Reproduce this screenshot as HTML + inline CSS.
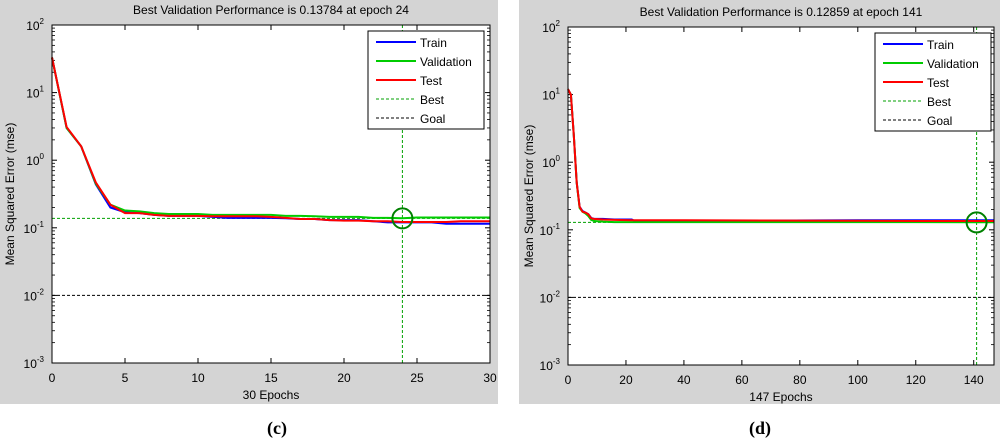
<!DOCTYPE html>
<html><head><meta charset="utf-8"><style>
body{margin:0;background:#fff;width:1000px;height:440px;overflow:hidden}
svg{display:block;font-family:"Liberation Sans",sans-serif}
</style></head><body>
<svg id="chart" width="1000" height="440" viewBox="0 0 1000 440" xmlns="http://www.w3.org/2000/svg"></svg>
<script>
// Panel (c) data
const cEpochs = [0,1,2,3,4,5,6,7,8,9,10,11,12,13,14,15,16,17,18,19,20,21,22,23,24,25,26,27,28,29,30];
const cTrain = [33,3.0,1.6,0.44,0.2,0.17,0.165,0.155,0.15,0.15,0.15,0.145,0.14,0.14,0.14,0.14,0.138,0.135,0.135,0.13,0.13,0.13,0.125,0.12,0.12,0.12,0.12,0.115,0.115,0.115,0.115];
const cVal = [33,3.0,1.6,0.45,0.22,0.18,0.175,0.165,0.16,0.16,0.16,0.155,0.155,0.155,0.155,0.155,0.15,0.15,0.148,0.145,0.145,0.145,0.14,0.14,0.138,0.142,0.142,0.142,0.142,0.142,0.142];
const cTest = [33,3.1,1.6,0.47,0.22,0.165,0.165,0.155,0.15,0.15,0.15,0.148,0.148,0.148,0.148,0.145,0.14,0.135,0.135,0.13,0.128,0.128,0.125,0.125,0.122,0.122,0.122,0.122,0.125,0.125,0.125];
const cBest = {epoch:24, value:0.13784};
// Panel (d) data
const dEpochs = [0,1,2,3,4,5,6,7,8,9,12,16,22,23,40,100,120,141,147];
const dTrain = [12,10,2.5,0.5,0.22,0.19,0.18,0.17,0.15,0.145,0.145,0.142,0.142,0.135,0.135,0.138,0.138,0.138,0.138];
const dVal = [12,10,2.5,0.5,0.21,0.185,0.175,0.16,0.14,0.135,0.132,0.13,0.13,0.13,0.13,0.13,0.13,0.129,0.129];
const dTest = [12,10,2.5,0.5,0.22,0.185,0.18,0.17,0.148,0.145,0.142,0.14,0.138,0.138,0.138,0.136,0.135,0.135,0.135];
const dBest = {epoch:141, value:0.12859};
const dTicks = [0,20,40,60,80,100,120,140];
const cTicks = [0,5,10,15,20,25,30];
const goal = 0.01;

const NS = "http://www.w3.org/2000/svg";
const svg = document.getElementById('chart');
function el(tag, attrs, parent){const e=document.createElementNS(NS,tag);for(const k in attrs)e.setAttribute(k,attrs[k]);(parent||svg).appendChild(e);return e;}

function panel(p){
  const g = el('g',{});
  
  
  const bg = el('rect',{x:p.bx,y:0,width:p.bw,height:404,fill:'#d4d4d4'},g);
  
  
  const X = v => p.x0 + (v - 0) / p.xmax * (p.x1 - p.x0);
  const Y = v => p.y1 - (Math.log10(v) + 3) / 5 * (p.y1 - p.y0);
  const plot = el('rect',{x:p.x0,y:p.y0,width:p.x1-p.x0,height:p.y1-p.y0,fill:'#fff'},g);
  
  
  // ticks y
  for(let d=-3; d<=2; d++){
    const yy = Y(Math.pow(10,d));
    el('line',{x1:p.x0,x2:p.x0+5,y1:yy,y2:yy,stroke:'#000'},g);
    el('line',{x1:p.x1,x2:p.x1-5,y1:yy,y2:yy,stroke:'#000'},g);
    if(d<2){for(let m=2;m<10;m++){const ym=Y(m*Math.pow(10,d));
      el('line',{x1:p.x0,x2:p.x0+3,y1:ym,y2:ym,stroke:'#000','stroke-width':0.8},g);
      el('line',{x1:p.x1,x2:p.x1-3,y1:ym,y2:ym,stroke:'#000','stroke-width':0.8},g);}}
    const t = el('text',{x:p.x0-8,y:yy+5,'text-anchor':'end','font-size':12,fill:'#000'},g);
    
    
    t.innerHTML = '10<tspan dy="-6" font-size="8">'+d+'</tspan>';
  }
  p.ticks.forEach(v=>{
    const xx = X(v);
    el('line',{x1:xx,x2:xx,y1:p.y1,y2:p.y1-5,stroke:'#000'},g);
    el('line',{x1:xx,x2:xx,y1:p.y0,y2:p.y0+5,stroke:'#000'},g);
    const t = el('text',{x:xx,y:p.y1+19,'text-anchor':'middle','font-size':12,fill:'#000'},g);
    
    
    t.textContent = v;
  });
  // goal and best lines
  el('line',{x1:p.x0,x2:p.x1,y1:Y(goal),y2:Y(goal),stroke:'#000','stroke-dasharray':'3,2'},g);
  el('line',{x1:p.x0,x2:p.x1,y1:Y(p.best.value),y2:Y(p.best.value),stroke:'#00a000','stroke-dasharray':'3,2'},g);
  el('line',{x1:X(p.best.epoch),x2:X(p.best.epoch),y1:p.y0,y2:p.y1,stroke:'#00a000','stroke-dasharray':'3,2'},g);
  // series
  [['train-line',p.train,'#0000ff'],['validation-line',p.val,'#00cc00'],['test-line',p.test,'#ff0000']].forEach(s=>{
    let d='';
    p.ep.forEach((e,i)=>{d += (i?'L':'M') + X(e).toFixed(1)+','+Y(s[1][i]).toFixed(1);});
    const path = el('path',{d:d,fill:'none',stroke:s[2],'stroke-width':2},g);
    
    
  });
  const c = el('circle',{cx:X(p.best.epoch),cy:Y(p.best.value),r:10,fill:'none',stroke:'#008000','stroke-width':2},g);
  
  
  el('rect',{x:p.x0,y:p.y0,width:p.x1-p.x0,height:p.y1-p.y0,fill:'none',stroke:'#000'},g);
  // legend
  const lg = el('g',{},g);
  
  
  el('rect',{x:p.lx,y:p.ly,width:116,height:98,fill:'#fff',stroke:'#000'},lg);
  [['Train','#0000ff',null],['Validation','#00cc00',null],['Test','#ff0000',null],['Best','#00a000','3,2'],['Goal','#000','3,2']].forEach((it,i)=>{
    const yy = p.ly+11+i*19;
    const a={x1:p.lx+8,x2:p.lx+48,y1:yy,y2:yy,stroke:it[1],'stroke-width':it[2]?1:2};
    if(it[2])a['stroke-dasharray']=it[2];
    el('line',a,lg);
    const t = el('text',{x:p.lx+52,y:yy+5,'font-size':12,fill:'#000'},lg);
    
    
    t.textContent = it[0];
  });
  const tt = el('text',{x:(p.x0+p.x1)/2,y:p.y0-11,'text-anchor':'middle','font-size':12,fill:'#000'},g);
  
  
  tt.textContent = p.title;
  const xl = el('text',{x:(p.x0+p.x1)/2,y:p.y1+36,'text-anchor':'middle','font-size':12,fill:'#000'},g);
  
  
  xl.textContent = p.xlabel;
  const yl = el('text',{x:0,y:0,'text-anchor':'middle','font-size':12,fill:'#000',transform:'translate('+(p.bx+14)+','+((p.y0+p.y1)/2)+') rotate(-90)'},g);
  
  
  yl.textContent = 'Mean Squared Error  (mse)';
  const cap = el('text',{x:p.capx,y:434,'text-anchor':'middle','font-size':18,'font-weight':'bold','font-family':'Liberation Serif, serif',fill:'#000'},g);
  
  
  cap.textContent = p.cap;
}

panel({name:'panel-c',bx:0,bw:498,x0:52,x1:490,y0:25,y1:363,xmax:30,ticks:cTicks,ep:cEpochs,train:cTrain,val:cVal,test:cTest,best:cBest,
  lx:368,ly:31,title:'Best Validation Performance is 0.13784 at epoch 24',xlabel:'30 Epochs',cap:'(c)',capx:277});
panel({name:'panel-d',bx:519,bw:481,x0:568,x1:994,y0:27,y1:365,xmax:147,ticks:dTicks,ep:dEpochs,train:dTrain,val:dVal,test:dTest,best:dBest,
  lx:875,ly:33,title:'Best Validation Performance is 0.12859 at epoch 141',xlabel:'147 Epochs',cap:'(d)',capx:760});
</script>
</body></html>
